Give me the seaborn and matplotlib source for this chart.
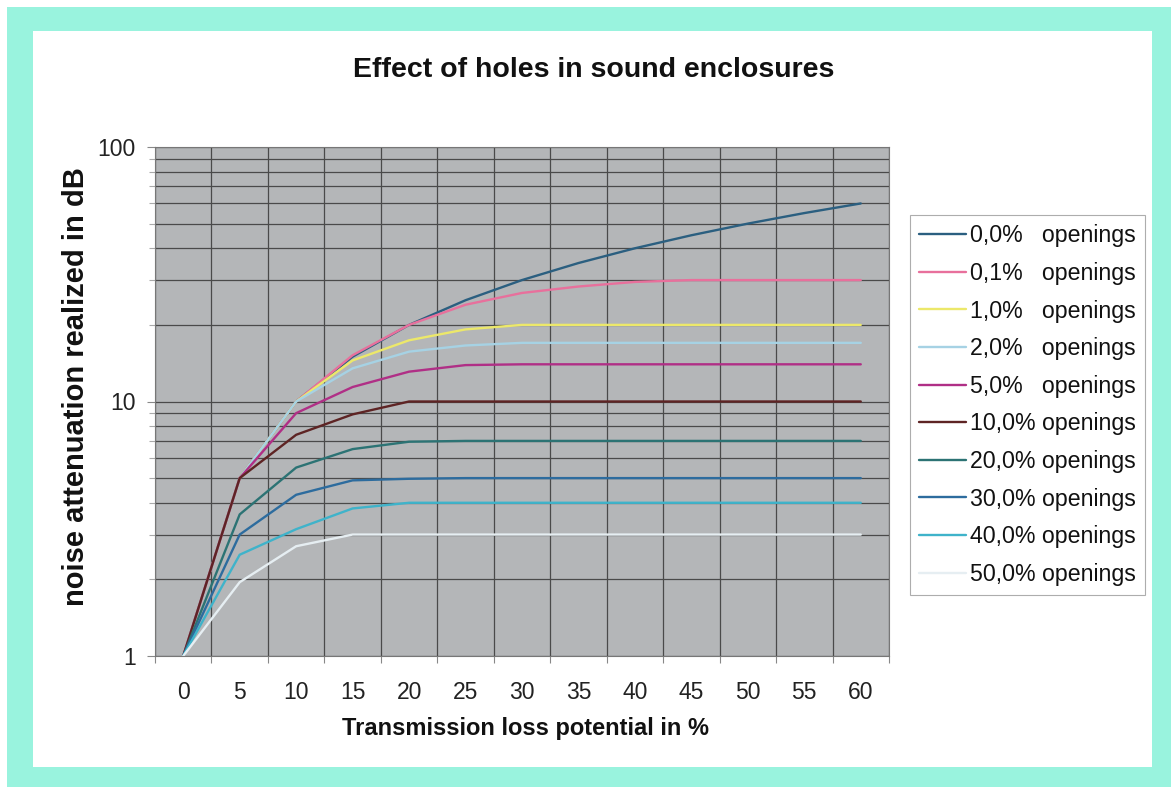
import numpy as np
import pandas as pd
import matplotlib
matplotlib.use("Agg")
import matplotlib.pyplot as plt
from matplotlib.patches import Rectangle
from matplotlib.ticker import FixedLocator, NullFormatter
import seaborn as sns

# ---------------- data ----------------
tl_potential = [0, 5, 10, 15, 20, 25, 30, 35, 40, 45, 50, 55, 60]
series_labels = ["0,0%   openings", "0,1%   openings", "1,0%   openings",
                 "2,0%   openings", "5,0%   openings", "10,0% openings",
                 "20,0% openings", "30,0% openings", "40,0% openings",
                 "50,0% openings"]
open_00 = [1, 5, 10, 15, 20, 25, 30, 35, 40, 45, 50, 55, 60]
open_01 = [1, 5, 10, 15.2, 20, 24, 26.7, 28.3, 29.5, 30, 30, 30, 30]
open_1 = [1, 5, 10, 14.5, 17.4, 19.2, 20, 20, 20, 20, 20, 20, 20]
open_2 = [1, 5, 10, 13.5, 15.7, 16.6, 17, 17, 17, 17, 17, 17, 17]
open_5 = [1, 5, 9, 11.4, 13.1, 13.9, 14, 14, 14, 14, 14, 14, 14]
open_10 = [1, 5, 7.4, 8.9, 10, 10, 10, 10, 10, 10, 10, 10, 10]
open_20 = [1, 3.6, 5.5, 6.5, 6.95, 7, 7, 7, 7, 7, 7, 7, 7]
open_30 = [1, 3.0, 4.3, 4.9, 4.97, 5, 5, 5, 5, 5, 5, 5, 5]
open_40 = [1, 2.5, 3.15, 3.8, 4, 4, 4, 4, 4, 4, 4, 4, 4]
open_50 = [1, 1.95, 2.7, 3, 3, 3, 3, 3, 3, 3, 3, 3, 3]
all_series = [open_00, open_01, open_1, open_2, open_5, open_10,
              open_20, open_30, open_40, open_50]
y_ticks = [1, 10, 100]
y_tick_labels = ["1", "10", "100"]

colors = ["#2b5f80", "#e8709c", "#ece86a", "#a6d2e4", "#b02f86",
          "#5e2424", "#2c7374", "#2d6c9e", "#3fb3ca", "#e6eef2"]

df = pd.DataFrame({
    "x": np.tile(tl_potential, len(series_labels)),
    "y": np.concatenate(all_series),
    "series": np.repeat(series_labels, len(tl_potential)),
})

# ---------------- figure ----------------
sns.set_style("white")
plt.rcParams["font.family"] = ["Liberation Sans", "DejaVu Sans"]

W, H = 1171, 787
fig = plt.figure(figsize=(W / 100, H / 100), dpi=100, facecolor="white")

# mint frame and inner white panel (pixel coords, top-down)
def px_rect(x0, y0, x1, y1, color):
    fig.patches.append(Rectangle((x0 / W, 1 - y1 / H), (x1 - x0) / W, (y1 - y0) / H,
                                 transform=fig.transFigure, facecolor=color,
                                 edgecolor="none", zorder=-10))
px_rect(7, 7, 1171, 787, "#99f3de")
px_rect(33, 31, 1152, 767, "white")

ax_l, ax_r, ax_t, ax_b = 155, 889, 147, 656
ax = fig.add_axes([ax_l / W, 1 - ax_b / H, (ax_r - ax_l) / W, (ax_b - ax_t) / H])
ax.set_facecolor("#b4b6b8")

sns.lineplot(data=df, x="x", y="y", hue="series", hue_order=series_labels,
             palette=colors, linewidth=1.7, ax=ax, legend=True, sort=False)

ax.set_yscale("log")
ax.set_ylim(1, 100)
ax.set_xlim(-2.5, 62.5)

# y ticks & grid
ax.yaxis.set_major_locator(FixedLocator(y_ticks))
ax.set_yticklabels(y_tick_labels)
minor_y = [v * d for d in (1, 10) for v in range(2, 10)]
ax.yaxis.set_minor_locator(FixedLocator(minor_y))
ax.yaxis.set_minor_formatter(NullFormatter())
ax.grid(True, which="both", axis="y", color="#4a4a4a", linewidth=0.9, zorder=0)

# x ticks: labels at category centres, gridlines/ticks at boundaries
ax.set_xticks(tl_potential)
ax.set_xticklabels([str(v) for v in tl_potential])
bounds = [v - 2.5 for v in tl_potential] + [62.5]
ax.xaxis.set_minor_locator(FixedLocator(bounds))
ax.grid(True, which="minor", axis="x", color="#4a4a4a", linewidth=0.9, zorder=0)
ax.tick_params(axis="x", which="major", length=0, labelsize=16.5, pad=18, colors="#222222")
ax.tick_params(axis="x", which="minor", length=5, width=0.8, color="#888888", direction="out", bottom=True)
ax.tick_params(axis="y", which="major", length=6, width=0.8, color="#888888", labelsize=16.5, pad=8,
               colors="#222222", left=True)
ax.tick_params(axis="y", which="minor", length=4, width=0.8, color="#aaaaaa", left=True)
ax.set_axisbelow(True)

for s in ax.spines.values():
    s.set_visible(True)
    s.set_color("#777777")
    s.set_linewidth(0.8)

ax.set_xlabel("Transmission loss potential in %", fontsize=17, fontweight="bold",
              color="#111111", va="center")
ax.xaxis.set_label_coords((525 - ax_l) / (ax_r - ax_l), (ax_b - 728) / (ax_b - ax_t))
ax.set_ylabel("noise attenuation realized in dB", fontsize=21, fontweight="bold",
              color="#111111", va="center")
ax.yaxis.set_label_coords((76 - ax_l) / (ax_r - ax_l), (ax_b - 387) / (ax_b - ax_t))

fig.text(594 / W, 1 - 70 / H, "Effect of holes in sound enclosures", ha="center", va="center",
         fontsize=20.5, fontweight="bold", color="#111111")

# legend
handles, labels = ax.get_legend_handles_labels()
leg = ax.legend(handles, labels, loc="upper left",
                bbox_to_anchor=(910 / W, 1 - 215 / H), bbox_transform=fig.transFigure,
                frameon=True, fancybox=False, fontsize=16.7, handlelength=2.0,
                handletextpad=0.2, labelspacing=0.63, borderpad=0.4,
                borderaxespad=0)
leg.get_frame().set_edgecolor("#999999")
leg.get_frame().set_linewidth(0.8)
for line in leg.get_lines():
    line.set_linewidth(1.7)
for t in leg.get_texts():
    t.set_color("#111111")

fig.savefig("out.png", dpi=100, facecolor="white")
